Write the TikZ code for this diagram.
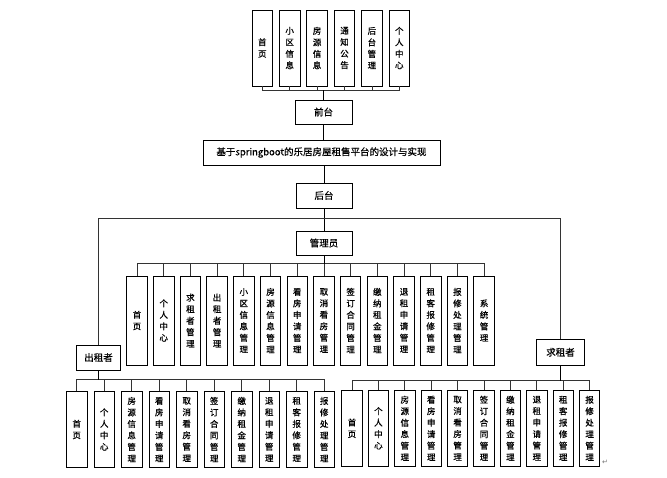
\documentclass[tikz,border=0pt]{standalone}
\usepackage{fontspec}
\setmainfont{Noto Sans CJK SC}[FakeBold=0.6]
\newfontfamily\symfont{DejaVu Sans}
\begin{document}
\begin{tikzpicture}[x=1pt,y=-1pt,
  box/.style={draw, line width=0.8pt, inner sep=0pt, align=center, fill=white,
    font=\fontsize{8.5}{11.5}\selectfont},
  vbox/.style={box, minimum width=20.5pt},
  hbox/.style={box, font=\fontsize{9.5}{11}\selectfont},
  conn/.style={line width=0.7pt, draw=black!80},
  trunk/.style={line width=0.8pt, draw=black}]
\useasboundingbox (0,0) rectangle (667,477);

% ---- top row (前台) ----
\foreach \t [count=\i from 0] in {{首\\页},{小\\区\\信\\息},{房\\源\\信\\息},{通\\知\\公\\告},{后\\台\\管\\理},{个\\人\\中\\心}}
  \node[vbox, minimum height=76pt] (T\i) at (262.3+27.4*\i,48) {\t};
\node[hbox, minimum width=57pt, minimum height=24pt] (qian) at (323.5,112) {前台};
\coordinate (tbus) at (323.5,90);
\draw[conn] (T0.south) -- ++(0,4) -| (T5.south);
\foreach \i in {1,...,4} \draw[conn] (T\i.south) -- ++(0,4);
\draw[trunk] (tbus) -- (qian.north);

% ---- title ----
\node[hbox, minimum width=237pt, minimum height=25pt] (title) at (321.5,152.5) {基于springboot的乐居房屋租售平台的设计与实现};
\draw[trunk] (qian.south) -- (title.north -| qian.south);

% ---- 后台 ----
\node[hbox, minimum width=56pt, minimum height=25pt] (hou) at (324,195.5) {后台};
\draw[trunk] (title.south -| hou.north) -- (hou.north);
\node[hbox, minimum width=56pt, minimum height=24pt] (mgr) at (324,243) {管理员};
\draw[trunk] (hou.south) -- (mgr.north);

% ---- 出租者 / 求租者 ----
\node[hbox, minimum width=44pt, minimum height=25pt] (chu) at (98.5,357.5) {出租者};
\node[hbox, minimum width=47.5pt, minimum height=25.5pt] (qiu) at (560.5,352.2) {求租者};
\coordinate (hl) at (98.5,218);
\coordinate (hr) at (560.5,218);
\draw[conn] (chu.north) -- (hl) -- (hr) -- (qiu.north);

% ---- manager row ----
\foreach \t [count=\i from 0] in {{首\\页},{个\\人\\中\\心},{求\\租\\者\\管\\理},{出\\租\\者\\管\\理},{小\\区\\信\\息\\管\\理},{房\\源\\信\\息\\管\\理},{看\\房\\申\\请\\管\\理},{取\\消\\看\\房\\管\\理},{签\\订\\合\\同\\管\\理},{缴\\纳\\租\\金\\管\\理},{退\\租\\申\\请\\管\\理},{租\\客\\报\\修\\管\\理},{报\\修\\处\\理\\管\\理},{系\\统\\管\\理}}
  \node[vbox, minimum height=89pt] (M\i) at (137+26.7*\i,320.5) {\t};
\coordinate (mbus) at (324,264);
\draw[conn] (M0.north) -- ++(0,-12) -| (M13.north);
\foreach \i in {1,...,12} \draw[conn] (M\i.north) -- ++(0,-12);
\draw[trunk] (mgr.south) -- (mbus);

% ---- 出租者 row ----
\foreach \t [count=\i from 0] in {{首\\页},{个\\人\\中\\心},{房\\源\\信\\息\\管\\理},{看\\房\\申\\请\\管\\理},{取\\消\\看\\房\\管\\理},{签\\订\\合\\同\\管\\理},{缴\\纳\\租\\金\\管\\理},{退\\租\\申\\请\\管\\理},{租\\客\\报\\修\\管\\理},{报\\修\\处\\理\\管\\理}}
  \node[vbox, minimum height=75.6pt] (L\i) at (76.7+27.5*\i,429.5) {\t};
\coordinate (lbus) at (98.5,379.5);
\draw[conn] (L0.north) -- ++(0,-12.2) -| (L9.north);
\foreach \i in {1,...,8} \draw[conn] (L\i.north) -- ++(0,-12.2);
\draw[trunk] (chu.south) -- (lbus);

% ---- 求租者 row ----
\foreach \t [count=\i from 0] in {{首\\页},{个\\人\\中\\心},{房\\源\\信\\息\\管\\理},{看\\房\\申\\请\\管\\理},{取\\消\\看\\房\\管\\理},{签\\订\\合\\同\\管\\理},{缴\\纳\\租\\金\\管\\理},{退\\租\\申\\请\\管\\理},{租\\客\\报\\修\\管\\理},{报\\修\\处\\理\\管\\理}}
  \node[vbox, minimum height=76.7pt] (R\i) at (352+26.4*\i,428.3) {\t};
\coordinate (rbus) at (560.5,380.7);
\draw[conn] (R0.north) -- ++(0,-9.3) -| (R9.north);
\foreach \i in {1,...,8} \draw[conn] (R\i.north) -- ++(0,-9.3);
\draw[trunk] (qiu.south) -- (rbus);

% paragraph mark
\node[font=\symfont\fontsize{7}{7}\selectfont, text=black!55, inner sep=0pt] (para) at (605,462) {↵};
\end{tikzpicture}
\end{document}
